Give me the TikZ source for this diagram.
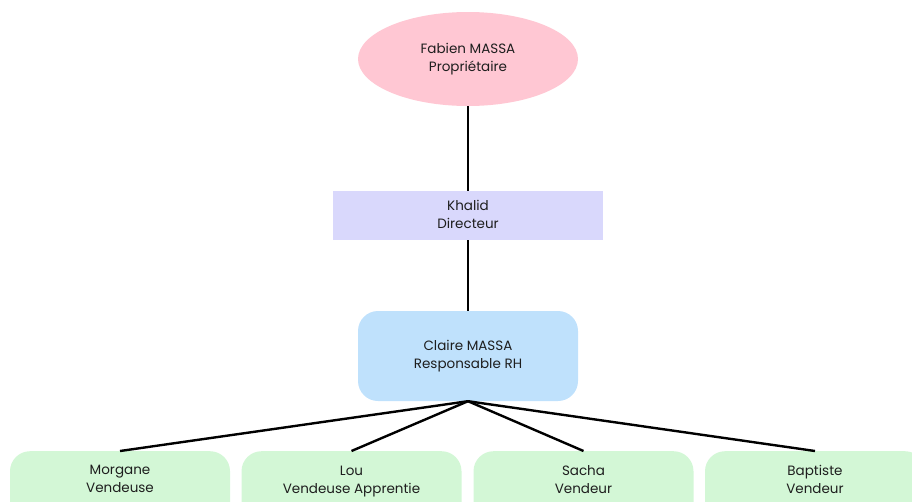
\documentclass[tikz,border=0pt]{standalone}
\usepackage{fontspec}
\setmainfont{Poppins}
\usetikzlibrary{shapes.geometric}
\definecolor{pinkfill}{HTML}{FFC7D3}
\definecolor{lavfill}{HTML}{D9D8FC}
\definecolor{bluefill}{HTML}{BFE1FC}
\definecolor{greenfill}{HTML}{D3F7D6}
\definecolor{txt}{HTML}{1E1E1E}
\begin{document}
\begin{tikzpicture}[x=1pt,y=-1pt,
  every node/.style={text=txt, font=\fontsize{13.5}{18}\selectfont, align=center, inner sep=0pt},
  conn/.style={line width=2.4pt, black},
  greenbox/.style={fill=greenfill, rounded corners=20pt, minimum width=220pt, minimum height=90pt, anchor=north}]
\useasboundingbox (0,0) rectangle (912,501);
\begin{scope}
\clip (0,0) rectangle (912,501);
\node[ellipse, fill=pinkfill, minimum width=220pt, minimum height=94pt] (fab) at (468,59) {Fabien MASSA\strut\\Propriétaire\strut};
\node[fill=lavfill, minimum width=270pt, minimum height=49pt] (kha) at (468,215.5) {Khalid\strut\\Directeur\strut};
\node[fill=bluefill, rounded corners=20pt, minimum width=220pt, minimum height=90pt] (cla) at (468,356) {Claire MASSA\strut\\Responsable RH\strut};
\node[greenbox] (mor) at (120,451) {};
\node[greenbox] (lou) at (351.5,451) {};
\node[greenbox] (sac) at (583.5,451) {};
\node[greenbox] (bap) at (815,451) {};
\node (mort) at (120,480) {Morgane\strut\\Vendeuse\strut};
\node (lout) at (351.5,481) {Lou\strut\\Vendeuse Apprentie\strut};
\node (sact) at (583.5,481) {Sacha\strut\\Vendeur\strut};
\node (bapt) at (815,481) {Baptiste\strut\\Vendeur\strut};
\draw[conn] (fab.south) -- (kha.north);
\draw[conn] (kha.south) -- (cla.north);
\draw[conn] (cla.south) -- (mor.north);
\draw[conn] (cla.south) -- (lou.north);
\draw[conn] (cla.south) -- (sac.north);
\draw[conn] (cla.south) -- (bap.north);
\end{scope}
\end{tikzpicture}
\end{document}
